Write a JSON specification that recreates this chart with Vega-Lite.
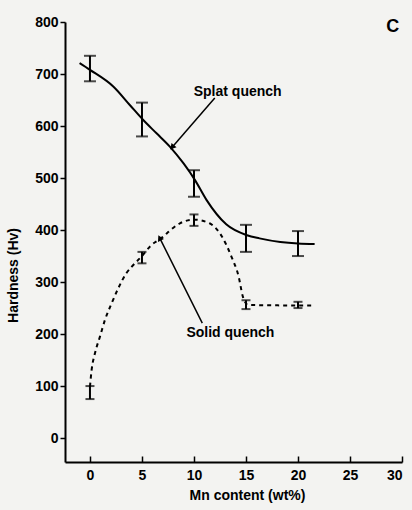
{
  "$schema": "https://vega.github.io/schema/vega-lite/v6.json",
  "width": 337,
  "height": 440,
  "autosize": {"type": "none"},
  "padding": {"left": 65, "top": 22, "right": 10, "bottom": 48},
  "background": "#f3f3f1",
  "config": {
    "view": {"stroke": null},
    "font": "Liberation Sans",
    "axis": {"grid": false, "domainColor": "black", "domainWidth": 2, "tickColor": "black", "tickWidth": 1.5, "labelColor": "black", "titleColor": "black", "labelFont": "Liberation Sans", "titleFont": "Liberation Sans", "labelFontWeight": "bold", "titleFontWeight": "bold", "labelFontSize": 14, "titleFontSize": 14}
  },
  "datasets": {
    "splatCurve": [
      {"x": -1, "y": 721}, {"x": 0, "y": 708}, {"x": 2.24, "y": 676}, {"x": 3.85, "y": 640},
      {"x": 5.1, "y": 612}, {"x": 6.4, "y": 586}, {"x": 7.7, "y": 560}, {"x": 9.0, "y": 528},
      {"x": 10.1, "y": 496}, {"x": 11.2, "y": 458}, {"x": 13.1, "y": 411},
      {"x": 15.1, "y": 390}, {"x": 16.3, "y": 384}, {"x": 18.3, "y": 377}, {"x": 20, "y": 374}, {"x": 21.6, "y": 373}
    ],
    "solidCurve": [
      {"x": 0, "y": 99}, {"x": 0.16, "y": 131}, {"x": 0.48, "y": 163}, {"x": 0.96, "y": 195},
      {"x": 1.44, "y": 227}, {"x": 2.08, "y": 259}, {"x": 2.72, "y": 288}, {"x": 3.5, "y": 317},
      {"x": 4.0, "y": 329}, {"x": 5, "y": 350}, {"x": 5.9, "y": 371}, {"x": 6.9, "y": 385},
      {"x": 7.4, "y": 394}, {"x": 8.65, "y": 413}, {"x": 10, "y": 420}, {"x": 11.5, "y": 413},
      {"x": 12.7, "y": 387}, {"x": 13.6, "y": 349}, {"x": 14.3, "y": 310}, {"x": 14.7, "y": 272},
      {"x": 15.2, "y": 256}, {"x": 20, "y": 255}, {"x": 21.6, "y": 255}
    ],
    "splatErr": [
      {"x": 0, "lo": 686, "hi": 735}, {"x": 5, "lo": 580, "hi": 645}, {"x": 10, "lo": 464, "hi": 515},
      {"x": 15, "lo": 358, "hi": 410}, {"x": 20, "lo": 350, "hi": 398}
    ],
    "solidErr": [
      {"x": 0, "lo": 75, "hi": 100}, {"x": 5, "lo": 336, "hi": 358}, {"x": 10, "lo": 408, "hi": 430},
      {"x": 15, "lo": 248, "hi": 265}, {"x": 20, "lo": 250, "hi": 262}
    ],
    "labels": [
      {"x": 14.2, "y": 665, "t": "Splat quench", "s": 14},
      {"x": 13.5, "y": 202, "t": "Solid quench", "s": 14},
      {"x": 29.1, "y": 790, "t": "C", "s": 18}
    ],
    "arrows": [
      {"x": 12, "y": 654, "x2": 7.9, "y2": 559, "a": 221},
      {"x": 10.8, "y": 221, "x2": 6.7, "y2": 385, "a": 333}
    ]
  },
  "encoding": {
    "x": {"type": "quantitative"},
    "y": {"type": "quantitative"}
  },
  "layer": [
    {
      "data": {"name": "splatCurve"},
      "mark": {"type": "line", "color": "black", "strokeWidth": 2, "interpolate": "monotone"},
      "encoding": {
        "x": {"field": "x", "type": "quantitative", "scale": {"domain": [-2.4, 30], "nice": false, "zero": false},
          "axis": {"values": [0, 5, 10, 15, 20, 25, 30], "tickSize": -6, "labelPadding": 12, "title": "Mn  content  (wt%)", "titleX": 182, "titleY": 33, "titleBaseline": "middle"}},
        "y": {"field": "y", "type": "quantitative", "scale": {"domain": [-46, 800], "nice": false, "zero": false},
          "axis": {"values": [0, 100, 200, 300, 400, 500, 600, 700, 800], "tickSize": 5, "labelPadding": 2, "title": "Hardness  (Hv)", "titleX": -45, "titleY": 253}}
      }
    },
    {
      "data": {"name": "solidCurve"},
      "mark": {"type": "line", "color": "black", "strokeWidth": 2, "strokeDash": [4, 4], "interpolate": "monotone"},
      "encoding": {"x": {"field": "x", "type": "quantitative"}, "y": {"field": "y", "type": "quantitative"}}
    },
    {
      "data": {"name": "splatErr"},
      "mark": {"type": "rule", "color": "black", "strokeWidth": 2},
      "encoding": {"x": {"field": "x", "type": "quantitative"}, "y": {"field": "lo", "type": "quantitative"}, "y2": {"field": "hi"}}
    },
    {
      "data": {"name": "splatErr"},
      "mark": {"type": "tick", "color": "black", "thickness": 2, "size": 12, "orient": "horizontal"},
      "encoding": {"x": {"field": "x", "type": "quantitative"}, "y": {"field": "lo", "type": "quantitative"}}
    },
    {
      "data": {"name": "splatErr"},
      "mark": {"type": "tick", "color": "black", "thickness": 2, "size": 12, "orient": "horizontal"},
      "encoding": {"x": {"field": "x", "type": "quantitative"}, "y": {"field": "hi", "type": "quantitative"}}
    },
    {
      "data": {"name": "solidErr"},
      "mark": {"type": "rule", "color": "black", "strokeWidth": 2},
      "encoding": {"x": {"field": "x", "type": "quantitative"}, "y": {"field": "lo", "type": "quantitative"}, "y2": {"field": "hi"}}
    },
    {
      "data": {"name": "solidErr"},
      "mark": {"type": "tick", "color": "black", "thickness": 2, "size": 9, "orient": "horizontal"},
      "encoding": {"x": {"field": "x", "type": "quantitative"}, "y": {"field": "lo", "type": "quantitative"}}
    },
    {
      "data": {"name": "solidErr"},
      "mark": {"type": "tick", "color": "black", "thickness": 2, "size": 9, "orient": "horizontal"},
      "encoding": {"x": {"field": "x", "type": "quantitative"}, "y": {"field": "hi", "type": "quantitative"}}
    },
    {
      "data": {"name": "arrows"},
      "mark": {"type": "rule", "color": "black", "strokeWidth": 1.5},
      "encoding": {"x": {"field": "x", "type": "quantitative"}, "y": {"field": "y", "type": "quantitative"}, "x2": {"field": "x2"}, "y2": {"field": "y2"}}
    },
    {
      "data": {"name": "arrows"},
      "mark": {"type": "point", "shape": "triangle-up", "filled": true, "color": "black", "size": 45, "opacity": 1},
      "encoding": {"x": {"field": "x2", "type": "quantitative"}, "y": {"field": "y2", "type": "quantitative"}, "angle": {"field": "a", "type": "quantitative", "scale": null}}
    },
    {
      "data": {"name": "labels"},
      "mark": {"type": "text", "color": "black", "fontWeight": "bold", "font": "Liberation Sans", "align": "center", "baseline": "middle"},
      "encoding": {"x": {"field": "x", "type": "quantitative"}, "y": {"field": "y", "type": "quantitative"}, "text": {"field": "t"}, "size": {"field": "s", "type": "quantitative", "scale": null}}
    }
  ]
}
